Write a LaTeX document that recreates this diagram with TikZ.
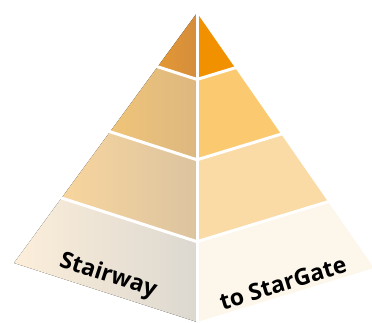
\documentclass[tikz,border=0pt]{standalone}
\usepackage{fontspec}
\newfontfamily\stepfont{Open Sans}
\usetikzlibrary{calc}

\definecolor{topL}{RGB}{228,152,52}
\definecolor{topLd}{RGB}{212,141,60}
\definecolor{topR}{RGB}{242,145,0}
\definecolor{secL}{RGB}{240,196,120}
\definecolor{secLd}{RGB}{220,183,128}
\definecolor{secR}{RGB}{251,202,112}
\definecolor{thrL}{RGB}{248,213,157}
\definecolor{thrLd}{RGB}{220,196,160}
\definecolor{thrR}{RGB}{250,218,165}
\definecolor{botL}{RGB}{252,238,218}
\definecolor{botLd}{RGB}{220,216,208}
\definecolor{botR}{RGB}{253,246,235}

\begin{document}
\begin{tikzpicture}[
    x=1pt, y=-1pt,
    leftface/.style={shading=axis, shading angle=90},
    gap/.style={draw=white, line width=3pt},
    caption/.style={font=\stepfont\bfseries\fontsize{23}{23}\selectfont, text=black, inner sep=0pt}
]
    \useasboundingbox (0,0) rectangle (372,322);

    % corners of the pyramid
    \coordinate (apex) at (197,13);
    \coordinate (lbase) at (14,263);
    \coordinate (cbase) at (197,322);
    \coordinate (rbase) at (374,268);

    % tier borders
    \foreach \f/\n in {0.215/1, 0.475/2, 0.74/3} {
        \coordinate (l\n) at ($(apex)!\f!(lbase)$);
        \coordinate (c\n) at ($(apex)!\f!(cbase)$);
        \coordinate (r\n) at ($(apex)!\f!(rbase)$);
    }

    % left face
    \fill[leftface, left color=topL, right color=topLd] (apex) -- (l1) -- (c1) -- cycle;
    \fill[leftface, left color=secL, right color=secLd] (l1) -- (l2) -- (c2) -- (c1) -- cycle;
    \fill[leftface, left color=thrL, right color=thrLd] (l2) -- (l3) -- (c3) -- (c2) -- cycle;
    \fill[leftface, left color=botL, right color=botLd] (l3) -- (lbase) -- (cbase) -- (c3) -- cycle;

    % right face
    \fill[topR] (apex) -- (c1) -- (r1) -- cycle;
    \fill[secR] (c1) -- (c2) -- (r2) -- (r1) -- cycle;
    \fill[thrR] (c2) -- (c3) -- (r3) -- (r2) -- cycle;
    \fill[botR] (c3) -- (cbase) -- (rbase) -- (r3) -- cycle;

    % white gaps
    \draw[gap] (apex) -- (cbase);
    \foreach \n in {1,2,3}
        \draw[gap] ($(l\n)!-0.05!(c\n)$) -- (c\n) -- ($(r\n)!-0.05!(c\n)$);

    \node[caption, rotate=-18] (stairway) at (108,276) {Stairway};
    \node[caption, rotate=17] (stargate) at (283,283) {to StarGate};
\end{tikzpicture}
\end{document}
